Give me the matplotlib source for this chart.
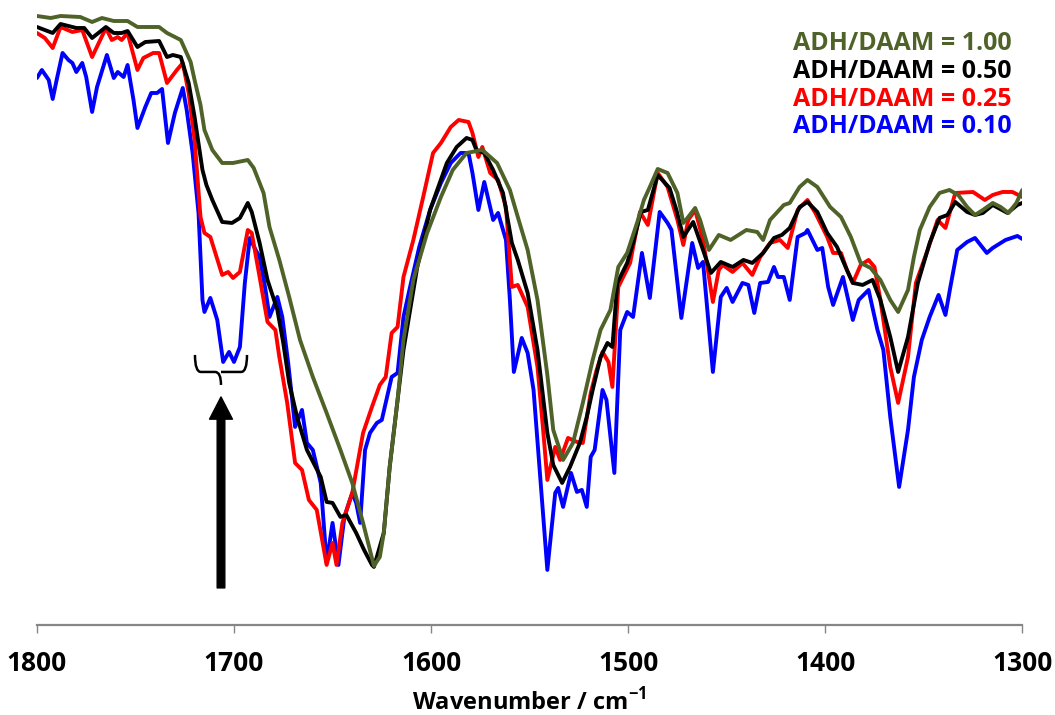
import matplotlib
matplotlib.use("Agg")
import matplotlib.pyplot as plt
from matplotlib.path import Path
from matplotlib.patches import PathPatch

plt.rcParams['font.family'] = ['Open Sans', 'DejaVu Sans']
plt.rcParams['mathtext.fontset'] = 'custom'
plt.rcParams['mathtext.rm'] = 'Open Sans'
plt.rcParams['mathtext.bf'] = 'Open Sans:bold'

# FTIR spectra, transmittance in arbitrary units
wn_100 = [1800, 1793, 1788, 1778, 1772, 1767, 1761, 1754, 1749, 1738, 1734, 1727, 1722, 1720,
          1717, 1715, 1711, 1706, 1700.5, 1693, 1690, 1685, 1682, 1677, 1672, 1666.5, 1660, 1653,
          1646, 1640, 1634.5, 1629, 1626, 1624, 1621, 1617, 1614, 1609, 1602, 1595, 1589, 1582,
          1574, 1566.5, 1560, 1556, 1551, 1546, 1541, 1538, 1533, 1528, 1523, 1518, 1514, 1509,
          1505, 1500.5, 1495, 1492, 1489, 1485, 1480, 1475, 1472, 1469.5, 1466, 1463.5, 1459, 1454,
          1448, 1440, 1434.5, 1431.5, 1428, 1421, 1418, 1413, 1409, 1404, 1397.5, 1392, 1387, 1382,
          1377, 1372, 1367, 1363, 1358, 1355, 1352, 1347, 1342, 1337, 1332.5, 1328, 1324, 1320,
          1315, 1311, 1307, 1303, 1300]
t_100 = [609, 607, 609, 608, 603, 607, 604, 604, 598, 598, 592, 585, 563, 545,
         520, 495, 475, 462, 462, 465, 457, 432, 398, 365, 328, 285, 248, 212,
         175, 142, 102, 59, 68, 92, 158, 225, 285, 345, 392, 428, 455, 472,
         475, 462, 435, 408, 375, 325, 250, 195, 165, 182, 222, 265, 295, 315,
         358, 372, 405, 425, 438, 456, 452, 432, 402, 408, 417, 405, 375, 390,
         385, 395, 393, 385, 405, 420, 422, 438, 445, 438, 418, 408, 388, 362,
         357, 345, 325, 313, 335, 368, 395, 418, 432, 435, 430, 418, 410, 415,
         422, 418, 412, 422, 435]

wn_050 = [1800, 1792, 1788, 1780, 1776, 1772, 1765, 1761, 1757, 1754, 1749, 1745, 1738, 1734,
          1731, 1727, 1723, 1720, 1716, 1714, 1711, 1706, 1701, 1697, 1693, 1691, 1687, 1683,
          1678, 1675, 1672, 1668, 1663, 1656, 1653, 1650, 1646, 1643, 1638, 1634, 1630, 1629,
          1624, 1621, 1614, 1607, 1600.5, 1592, 1587, 1582, 1579, 1577, 1573, 1568.5, 1563.5, 1559,
          1556, 1551, 1546, 1541, 1538, 1533.5, 1529.5, 1524.5, 1521, 1518, 1514, 1510.5, 1508, 1505.5,
          1500.5, 1497.5, 1493.5, 1490, 1485, 1479, 1475.5, 1472, 1467, 1462, 1458, 1453, 1447, 1441.5,
          1437, 1431.5, 1426, 1422, 1418, 1413, 1409, 1404, 1399, 1394, 1389, 1386, 1381, 1376,
          1372, 1367, 1363, 1358, 1353, 1347, 1342, 1338, 1334, 1328, 1324, 1320, 1315, 1307.5,
          1302.5, 1300]
t_050 = [598, 592, 601, 597, 597, 587, 598, 592, 592, 594, 578, 583, 584, 568,
         570, 568, 542, 508, 455, 440, 425, 403, 402, 407, 422, 413, 382, 345,
         315, 282, 242, 208, 175, 148, 123, 122, 108, 110, 92, 75, 60, 58,
         92, 158, 275, 358, 415, 462, 478, 487, 485, 475, 472, 455, 432, 382,
         365, 332, 275, 192, 160, 142, 158, 182, 208, 235, 268, 282, 278, 342,
         362, 382, 413, 415, 450, 437, 415, 388, 403, 375, 352, 363, 358, 365,
         362, 372, 387, 390, 397, 418, 423, 413, 392, 378, 355, 342, 340, 345,
         325, 288, 253, 288, 342, 382, 407, 410, 423, 413, 410, 412, 420, 412,
         420, 422]

wn_025 = [1800, 1796, 1792, 1788, 1782, 1777, 1772, 1765, 1762, 1759, 1757, 1754, 1749, 1746,
          1741, 1738, 1734, 1729, 1726, 1723, 1720, 1717, 1715, 1712, 1706, 1703, 1700.5, 1697,
          1693, 1691, 1687, 1683, 1679, 1677, 1673, 1669, 1665.5, 1662, 1658, 1653, 1650, 1648,
          1645, 1640, 1634.5, 1630, 1626, 1623, 1620, 1617, 1614, 1609, 1604, 1599, 1595, 1590,
          1586, 1581, 1579, 1576, 1574, 1570, 1566, 1562, 1559, 1556, 1551, 1546, 1543, 1541,
          1537, 1534.5, 1530.5, 1526, 1523, 1519, 1516, 1513, 1510, 1508, 1505, 1499, 1494, 1490,
          1485, 1480, 1475, 1472, 1469.5, 1466, 1462, 1457, 1454, 1452, 1447, 1442, 1437, 1433,
          1428, 1423, 1419, 1414, 1409, 1405, 1399, 1396, 1392, 1389, 1386, 1382, 1378, 1375,
          1372, 1367, 1363, 1358, 1354, 1348, 1343, 1339, 1334, 1325, 1319, 1315, 1310, 1305,
          1300]
t_025 = [592, 587, 577, 598, 593, 595, 568, 597, 585, 588, 585, 592, 555, 567,
         572, 572, 542, 555, 562, 532, 485, 408, 392, 388, 350, 353, 347, 353,
         395, 392, 348, 303, 295, 268, 222, 162, 155, 125, 115, 60, 82, 60,
         102, 132, 192, 218, 240, 248, 292, 298, 348, 385, 428, 472, 482, 498,
         505, 503, 492, 468, 478, 452, 445, 418, 338, 340, 318, 258, 192, 145,
         178, 165, 187, 183, 182, 232, 255, 273, 263, 238, 338, 362, 413, 400,
         452, 438, 405, 380, 405, 415, 385, 323, 355, 360, 353, 362, 350, 368,
         382, 385, 377, 415, 425, 412, 388, 372, 372, 355, 342, 360, 365, 358,
         325, 258, 222, 268, 342, 375, 405, 397, 432, 433, 425, 430, 433, 433,
         428]

wn_010 = [1800, 1797.5, 1794, 1792, 1790, 1787, 1784, 1782, 1780, 1777, 1775, 1772, 1769.5, 1764.5,
          1761, 1759, 1756, 1754, 1751, 1749, 1745, 1742, 1739, 1736.5, 1733.5, 1730, 1726, 1724,
          1721, 1718, 1716, 1715, 1712, 1708.5, 1705.5, 1702.5, 1700, 1697, 1694.5, 1692, 1689, 1687,
          1684, 1682, 1678, 1675.5, 1672.5, 1669, 1665.5, 1663, 1660, 1656, 1653, 1650, 1647, 1644,
          1640, 1638, 1636, 1633.5, 1631, 1627.5, 1625, 1620, 1617, 1614, 1611, 1606, 1600.5, 1595,
          1590, 1585, 1581, 1579, 1576, 1573, 1568.5, 1566, 1562, 1560, 1558, 1554, 1551, 1548,
          1545, 1541, 1537, 1535.5, 1533, 1529, 1526, 1523.5, 1521, 1519, 1517, 1513, 1511, 1507,
          1504, 1500.5, 1497.5, 1493, 1489, 1484, 1480, 1478, 1473, 1467.5, 1464.5, 1462, 1457, 1453,
          1450, 1447, 1442, 1439, 1436, 1433, 1429, 1426, 1424, 1421, 1418, 1414, 1410, 1409,
          1404, 1401.5, 1398.5, 1396, 1391, 1386, 1383, 1378, 1373.5, 1370.5, 1367, 1362.5, 1358, 1355,
          1351, 1347, 1342.5, 1339, 1336.5, 1333, 1328, 1324, 1320, 1318, 1315, 1308.5, 1302.5, 1300]
t_010 = [547, 555, 545, 526, 545, 572, 565, 562, 553, 562, 548, 513, 538, 570,
         547, 553, 548, 560, 525, 497, 518, 532, 532, 536, 482, 512, 537, 515,
         472, 412, 325, 313, 327, 305, 263, 273, 263, 278, 342, 387, 375, 368,
         335, 308, 328, 308, 262, 198, 215, 182, 175, 142, 62, 102, 60, 108,
         132, 122, 102, 175, 192, 202, 205, 248, 252, 308, 335, 378, 415, 442,
         462, 472, 472, 452, 415, 443, 405, 412, 385, 325, 253, 287, 272, 235,
         158, 55, 132, 137, 118, 152, 133, 135, 118, 168, 175, 235, 225, 152,
         295, 313, 308, 372, 327, 413, 402, 395, 307, 382, 357, 363, 253, 328,
         337, 323, 342, 340, 312, 342, 343, 358, 348, 348, 325, 388, 392, 395,
         375, 377, 338, 320, 348, 305, 325, 335, 295, 275, 208, 138, 195, 248,
         285, 308, 330, 310, 338, 375, 383, 387, 377, 372, 377, 385, 389, 386]

labels = ['ADH/DAAM = 1.00', 'ADH/DAAM = 0.50', 'ADH/DAAM = 0.25', 'ADH/DAAM = 0.10']
colors = ['#4F6228', '#000000', '#FF0000', '#0000FF']
series = [(wn_100, t_100), (wn_050, t_050), (wn_025, t_025), (wn_010, t_010)]

fig = plt.figure(figsize=(10.55, 7.15), dpi=100)
ax = fig.add_axes([0.035, 0.126, 0.934, 0.874])

# draw the lowest ratio first so the 1.00 curve ends up on top
for z, ((wn, t), col) in enumerate(zip(series[::-1], colors[::-1])):
    ax.plot(wn, t, color=col, lw=2.8, solid_joinstyle='round', solid_capstyle='round', zorder=2 + z)

ax.set_xlim(1800, 1300)
ax.set_ylim(0, 625)
ax.set_xticks([1800, 1700, 1600, 1500, 1400, 1300])
ax.set_yticks([])
for s in ['top', 'right', 'left']:
    ax.spines[s].set_visible(False)
ax.spines['bottom'].set_color('#868686')
ax.spines['bottom'].set_linewidth(1.6)
ax.tick_params(axis='x', direction='out', length=6, width=1.0, color='#868686', pad=12,
               labelsize=19)
for lab in ax.get_xticklabels():
    lab.set_fontweight('bold')
ax.set_xlabel(r'Wavenumber / cm$^{\mathbf{-1}}$', fontsize=17, fontweight='bold', labelpad=8)

# series labels in the upper right
for i, (lab, col) in enumerate(zip(labels, colors)):
    fig.text(0.7515, 0.9385 - i * 0.0385, lab, color=col, fontsize=18, fontweight='bold',
             ha='left', va='center')

# curly bracket over the doublet near 1705 cm-1
xl, xc, xr = 1719.8, 1706.6, 1693.4
y_top, y_mid, y_tip = 270, 253, 240
verts = [(xl, y_top), (xl, y_mid), (xl - 3, y_mid),
         (xc + 3, y_mid), (xc, y_mid), (xc, y_tip),
         (xc, y_mid), (xc - 3, y_mid), (xr + 3, y_mid),
         (xr, y_mid), (xr, y_top)]
codes = [Path.MOVETO, Path.CURVE3, Path.CURVE3,
         Path.LINETO, Path.CURVE3, Path.CURVE3,
         Path.MOVETO, Path.CURVE3, Path.LINETO,
         Path.CURVE3, Path.CURVE3]
ax.add_patch(PathPatch(Path(verts, codes), fill=False, lw=1.8, edgecolor='black', zorder=6))

# arrow pointing at the bracket
ax.annotate('', xy=(xc, 228), xytext=(xc, 37),
            arrowprops=dict(facecolor='black', edgecolor='black', width=5.5,
                            headwidth=16.5, headlength=16, shrink=0))

fig.savefig('out.png', dpi=100)
